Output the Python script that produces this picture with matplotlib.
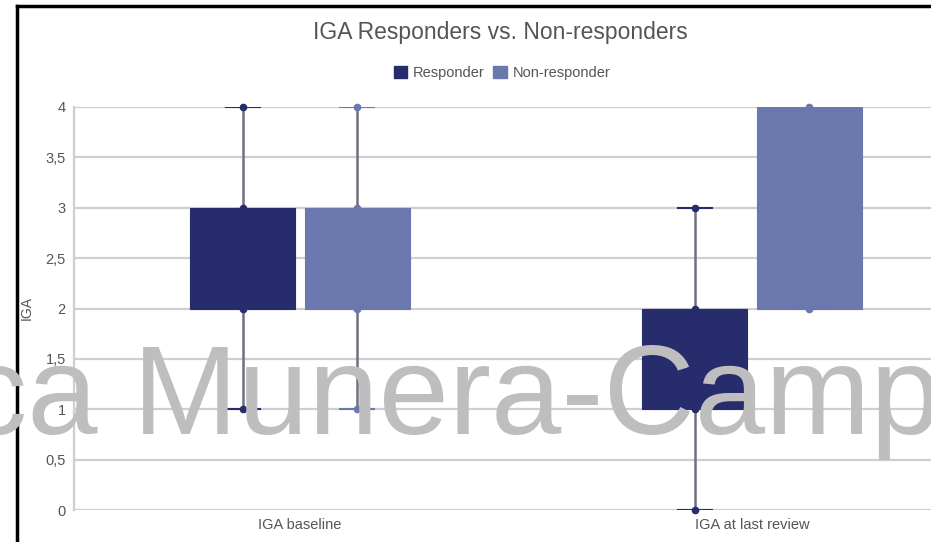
import matplotlib.pyplot as plt
from matplotlib.patches import Patch
from matplotlib.lines import Line2D

# data
categories = ["IGA baseline", "IGA at last review"]
series = ["Responder", "Non-responder"]
colors = ["#262c6c", "#6b78ad"]

resp_min = [1, 0]
resp_q1 = [2, 1]
resp_q3 = [3, 2]
resp_max = [4, 3]

nonresp_min = [1, 2]
nonresp_q1 = [2, 2]
nonresp_q3 = [3, 4]
nonresp_max = [4, 4]

yticks = [0, 0.5, 1, 1.5, 2, 2.5, 3, 3.5, 4]
ytick_labels = ["0", "0,5", "1", "1,5", "2", "2,5", "3", "3,5", "4"]

plt.rcParams["font.family"] = ["Liberation Sans", "DejaVu Sans"]

fig = plt.figure(figsize=(9.31, 5.42), dpi=100)
ax = fig.add_axes([74 / 931, 32 / 542, 904 / 931, 403 / 542])

offset = 0.127
width = 0.233
groups = [
    (resp_min, resp_q1, resp_q3, resp_max),
    (nonresp_min, nonresp_q1, nonresp_q3, nonresp_max),
]

for s, (lo, q1, q3, hi) in enumerate(groups):
    stats = []
    for i in range(len(categories)):
        stats.append({"whislo": lo[i], "q1": q1[i], "med": q1[i],
                      "q3": q3[i], "whishi": hi[i], "fliers": []})
    pos = [i + (offset if s else -offset) for i in range(len(categories))]
    ax.bxp(stats, positions=pos, widths=width, patch_artist=True,
           showfliers=False, manage_ticks=False,
           boxprops=dict(facecolor=colors[s], edgecolor=colors[s], linewidth=0.8),
           medianprops=dict(linewidth=0),
           whiskerprops=dict(color="#70707e", linewidth=1.8),
           capprops=dict(color=colors[s], linewidth=1.5),
           capwidths=0.075, zorder=3)
    # dots at whisker ends and box edges
    for i, p in enumerate(pos):
        for v in sorted(set([lo[i], q1[i], q3[i], hi[i]])):
            ax.plot(p, v, "o", color=colors[s], markersize=4.5,
                    zorder=4, clip_on=False)

ax.set_xlim(-0.5, 1.5)
ax.set_ylim(0, 4)
ax.set_xticks(range(len(categories)))
ax.set_xticklabels(categories, fontsize=10.5, color="#555555")
ax.set_yticks(yticks)
ax.set_yticklabels(ytick_labels, fontsize=10.5, color="#555555")
ax.tick_params(length=0, pad=6)
ax.tick_params(axis="x", pad=6)
ax.yaxis.grid(True, color="#cfcfcf", linewidth=1.6)
ax.set_axisbelow(True)
for side in ["top", "right", "bottom"]:
    ax.spines[side].set_visible(False)
ax.spines["left"].set_color("#cfcfcf")
ax.spines["left"].set_linewidth(1.6)
ax.set_ylabel("IGA", fontsize=10, color="#555555")
ax.yaxis.set_label_coords(-40 / 904, 0.5)

fig.text(500 / 931, 1 - 33 / 542, "IGA Responders vs. Non-responders",
         ha="center", va="center", fontsize=16.5, color="#555555")

handles = [Patch(facecolor=c, edgecolor=c) for c in colors]
fig.legend(handles, series, loc="center", bbox_to_anchor=(502 / 931, 1 - 73 / 542),
           ncol=2, frameon=False, fontsize=10.5, handlelength=0.9, handleheight=0.9,
           handletextpad=0.4, columnspacing=0.6, labelcolor="#555555")

# frame lines from the screenshot
fig.add_artist(Line2D([17 / 931, 17 / 931], [0, 1 - 6 / 542], color="black", linewidth=2.5))
fig.add_artist(Line2D([17 / 931, 1], [1 - 6 / 542, 1 - 6 / 542], color="black", linewidth=2.5))

# watermark
fig.text(-36 / 931, 1 - 434 / 542, "ca Munera-Camp", ha="left", va="baseline",
         fontsize=91, color="#bebebe", zorder=10)

fig.savefig("out.png", dpi=100)
